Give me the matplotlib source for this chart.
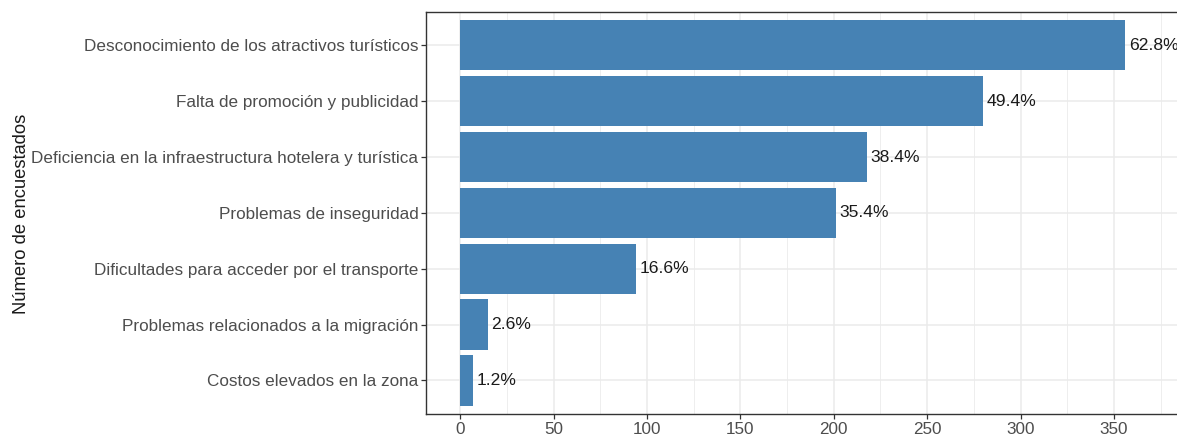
import matplotlib
matplotlib.use("Agg")
import matplotlib.pyplot as plt
from matplotlib.ticker import MultipleLocator

plt.rcParams['font.family'] = ['Liberation Sans', 'DejaVu Sans']

# data (top to bottom as shown)
categorias = [
    "Desconocimiento de los atractivos turísticos",
    "Falta de promoción y publicidad",
    "Deficiencia en la infraestructura hotelera y turística",
    "Problemas de inseguridad",
    "Dificultades para acceder por el transporte",
    "Problemas relacionados a la migración",
    "Costos elevados en la zona",
]
encuestados = [356, 280, 218, 201, 94, 15, 7]
porcentajes = ["62.8%", "49.4%", "38.4%", "35.4%", "16.6%", "2.6%", "1.2%"]

bar_color = "#4682B4"
grid_color = "#EBEBEB"
border_color = "#333333"
tick_text = "#4D4D4D"

fig = plt.figure(figsize=(11.77, 4.38), dpi=100)
ax = fig.add_axes([0.362, 0.055, 0.648, 0.918])

n = len(categorias)
ypos = list(range(n, 0, -1))
ax.barh(ypos, encuestados, height=0.9, color=bar_color, zorder=3)

for y, v, lab in zip(ypos, encuestados, porcentajes):
    ax.annotate(lab, xy=(v, y), xytext=(2.5, 0), textcoords="offset points",
                ha="left", va="center", fontsize=12.6, color="#1A1A1A", zorder=4)

ax.set_xlim(-18.2, 390)
ax.set_ylim(0.4, n + 0.6)
ax.set_yticks(ypos)
ax.set_yticklabels(categorias)
ax.xaxis.set_major_locator(MultipleLocator(50))
ax.xaxis.set_minor_locator(MultipleLocator(25))
ax.set_xticks(range(0, 351, 50))

ax.grid(True, which="major", color=grid_color, linewidth=1.1, zorder=0)
ax.grid(True, which="minor", axis="x", color=grid_color, linewidth=0.6, zorder=0)
ax.set_axisbelow(True)

for side in ["left", "bottom", "top"]:
    ax.spines[side].set_color(border_color)
    ax.spines[side].set_linewidth(1.0)
ax.spines["right"].set_visible(False)

ax.tick_params(axis="both", which="major", length=3.5, width=0.9, color=border_color,
               labelcolor=tick_text, labelsize=12.3, pad=2)
ax.tick_params(axis="x", which="minor", length=0)

fig.text(0.018, 0.512, "Número de encuestados", rotation=90, ha="center", va="center",
         fontsize=13.2, color="#1A1A1A")

fig.savefig("out.png", dpi=100)
